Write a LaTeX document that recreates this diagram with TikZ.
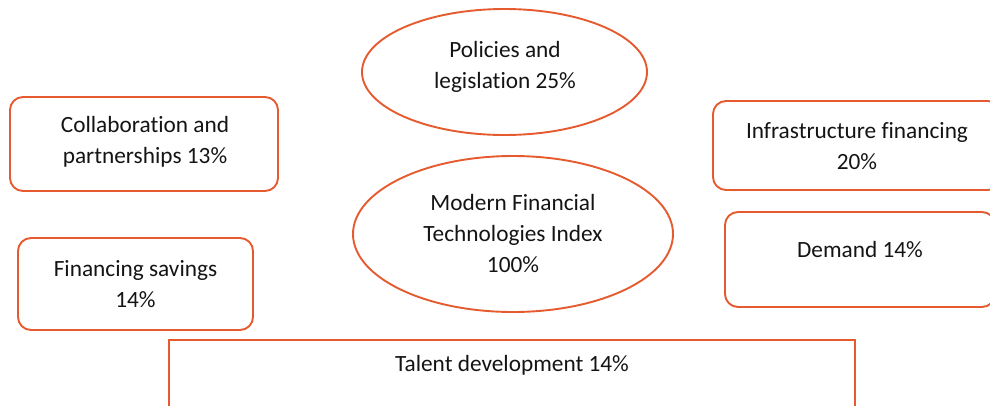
\documentclass[tikz,border=0pt]{standalone}
\usepackage{fontspec}
\setmainfont{Carlito}[Ligatures=NoCommon]
\usetikzlibrary{shapes.geometric}
\definecolor{accent}{RGB}{229,90,46}
\definecolor{ink}{RGB}{20,20,20}
\begin{document}
\begin{tikzpicture}[x=1pt,y=-1pt,
  txt/.style={align=center,inner sep=0pt,text=ink,font=\fontsize{23.3}{31}\selectfont},
  rbox/.style={draw=accent,line width=1.9pt,rounded corners=13pt,inner sep=0pt},
  sbox/.style={draw=accent,line width=1.9pt,inner sep=0pt},
  oval/.style={ellipse,draw=accent,line width=1.9pt,inner sep=0pt}]
\useasboundingbox (0,0) rectangle (990,405);
\clip (0,0) rectangle (990,405);

% central index and policies ellipses
\node[oval,minimum width=285pt,minimum height=126pt] (policies) at (504.5,72) {};
\node[txt] (policiesT) at (505,66.5) {Policies and\\legislation 25\%};
\node[oval,minimum width=320pt,minimum height=156pt] (index) at (513,234) {};
\node[txt] (indexT) at (513,234) {Modern Financial\\Technologies Index\\100\%};

% left-hand boxes
\node[rbox,minimum width=268pt,minimum height=94pt] (collab) at (144,144) {};
\node[txt] (collabT) at (145,141.5) {Collaboration and\\partnerships 13\%};
\node[rbox,minimum width=235pt,minimum height=92pt] (savings) at (135.5,284) {};
\node[txt] (savingsT) at (135.5,284) {Financing savings\\14\%};

% right-hand boxes (running past the right edge)
\node[rbox,minimum width=288pt,minimum height=89pt] (infra) at (857,145.5) {};
\node[txt] (infraT) at (857,146) {Infrastructure financing\\20\%};
\node[rbox,minimum width=270pt,minimum height=95pt] (demand) at (860,259.5) {};
\node[txt] (demandT) at (860,250) {Demand 14\%};

% bottom box (running past the lower edge)
\node[sbox,minimum width=686pt,minimum height=90pt] (talent) at (512,385) {};
\node[txt] (talentT) at (512,365) {Talent development 14\%};
\end{tikzpicture}
\end{document}
